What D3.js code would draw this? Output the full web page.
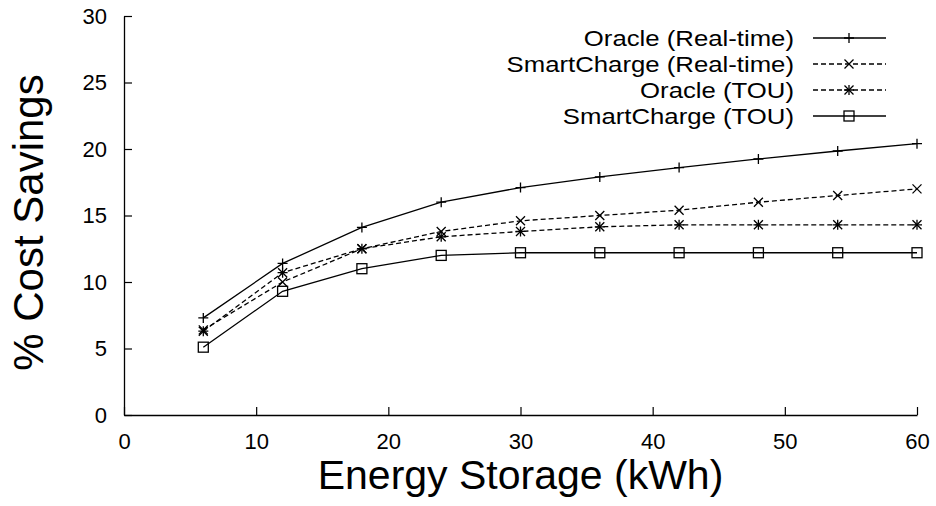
<!DOCTYPE html>
<html><head><meta charset="utf-8">
<script src="https://cdn.jsdelivr.net/npm/d3@7"></script>
<style>
html,body{margin:0;padding:0;background:#fff;}
svg{display:block;font-family:"Liberation Sans",Arial,Helvetica,sans-serif;}
</style></head>
<body>
<svg id="chart" width="936" height="506"></svg>
<script>
const storage = [6, 12, 18, 24, 30, 36, 42, 48, 54, 60];
const oracleRT = [7.3, 11.4, 14.1, 16.0, 17.1, 17.9, 18.6, 19.25, 19.85, 20.4];
const smartRT = [6.4, 10.0, 12.5, 13.8, 14.6, 15.0, 15.4, 16.0, 16.5, 17.0];
const oracleTOU = [6.3, 10.7, 12.5, 13.4, 13.8, 14.15, 14.3, 14.3, 14.3, 14.3];
const smartTOU = [5.1, 9.3, 11.0, 12.0, 12.2, 12.2, 12.2, 12.2, 12.2, 12.2];
const xTicks = [0, 10, 20, 30, 40, 50, 60];
const yTicks = [0, 5, 10, 15, 20, 25, 30];
const seriesNames = ["Oracle (Real-time)", "SmartCharge (Real-time)", "Oracle (TOU)", "SmartCharge (TOU)"];
const seriesValues = [oracleRT, smartRT, oracleTOU, smartTOU];
const seriesMarkers = ["plus", "cross", "star", "square"];
const seriesDashed = [false, true, true, false];

const svg = d3.select("#chart");
const x = d3.scaleLinear().domain([0, 60]).range([124, 917]);
const y = d3.scaleLinear().domain([0, 30]).range([415, 16]);

// axes
const gx = svg.append("g").attr("transform", `translate(0,${y(0)})`)
  .call(d3.axisBottom(x).tickValues(xTicks).tickFormat(d3.format("d")).tickSize(-8).tickSizeOuter(0).tickPadding(18));
const gy = svg.append("g").attr("transform", `translate(${x(0)},0)`)
  .call(d3.axisLeft(y).tickValues(yTicks).tickFormat(d3.format("d")).tickSize(-8).tickSizeOuter(0).tickPadding(17));
[gx, gy].forEach(g => {
  g.selectAll("path.domain").attr("stroke", "#000").attr("stroke-width", 1.3);
  g.selectAll(".tick line").attr("stroke", "#000").attr("stroke-width", 1.2);
  g.selectAll(".tick text").attr("fill", "#000").attr("font-size", 22).attr("font-family", '"Liberation Sans",Arial,sans-serif');
});

// axis titles
svg.append("text").attr("x", (x(0) + x(60)) / 2).attr("y", 489).attr("text-anchor", "middle")
  .attr("font-size", 41).attr("fill", "#000").text("Energy Storage (kWh)");
svg.append("text").attr("transform", `translate(43,${(y(0) + y(30)) / 2 + 7}) rotate(-90)`).attr("text-anchor", "middle")
  .attr("font-size", 42).attr("fill", "#000").text("% Cost Savings");

function drawMarker(g, type, cx, cy) {
  const s = 5;
  if (type === "plus" || type === "star") {
    g.append("path").attr("d", `M${cx - s},${cy}H${cx + s}M${cx},${cy - s}V${cy + s}`);
  }
  if (type === "cross" || type === "star") {
    const c = 4.5;
    g.append("path").attr("d", `M${cx - c},${cy - c}L${cx + c},${cy + c}M${cx - c},${cy + c}L${cx + c},${cy - c}`);
  }
  if (type === "square") {
    g.append("rect").attr("x", cx - 5).attr("y", cy - 5).attr("width", 10).attr("height", 10).attr("fill", "none");
  }
}

const line = d3.line().x(d => x(d[0])).y(d => y(d[1]));

seriesValues.forEach((vals, i) => {
  const pts = storage.map((s, j) => [s, vals[j]]);
  const g = svg.append("g").attr("stroke", "#000").attr("stroke-width", 1.3).attr("fill", "none");
  g.append("path").datum(pts).attr("d", line).attr("stroke-dasharray", seriesDashed[i] ? "5,3" : null);
  pts.forEach(p => drawMarker(g, seriesMarkers[i], x(p[0]), y(p[1])));
});

// legend
const legendY0 = 38, legendDy = 26;
seriesNames.forEach((name, i) => {
  const ly = legendY0 + i * legendDy;
  svg.append("g").attr("transform", `translate(794,${ly + 8}) scale(1.17,1)`)
    .append("text").attr("x", 0).attr("y", 0).attr("text-anchor", "end")
    .attr("font-size", 22).attr("fill", "#000").text(name);
  const g = svg.append("g").attr("stroke", "#000").attr("stroke-width", 1.3).attr("fill", "none");
  g.append("line").attr("x1", 813).attr("x2", 886).attr("y1", ly).attr("y2", ly)
    .attr("stroke-dasharray", seriesDashed[i] ? "5,3" : null);
  drawMarker(g, seriesMarkers[i], 849, ly);
});
</script>
</body></html>
